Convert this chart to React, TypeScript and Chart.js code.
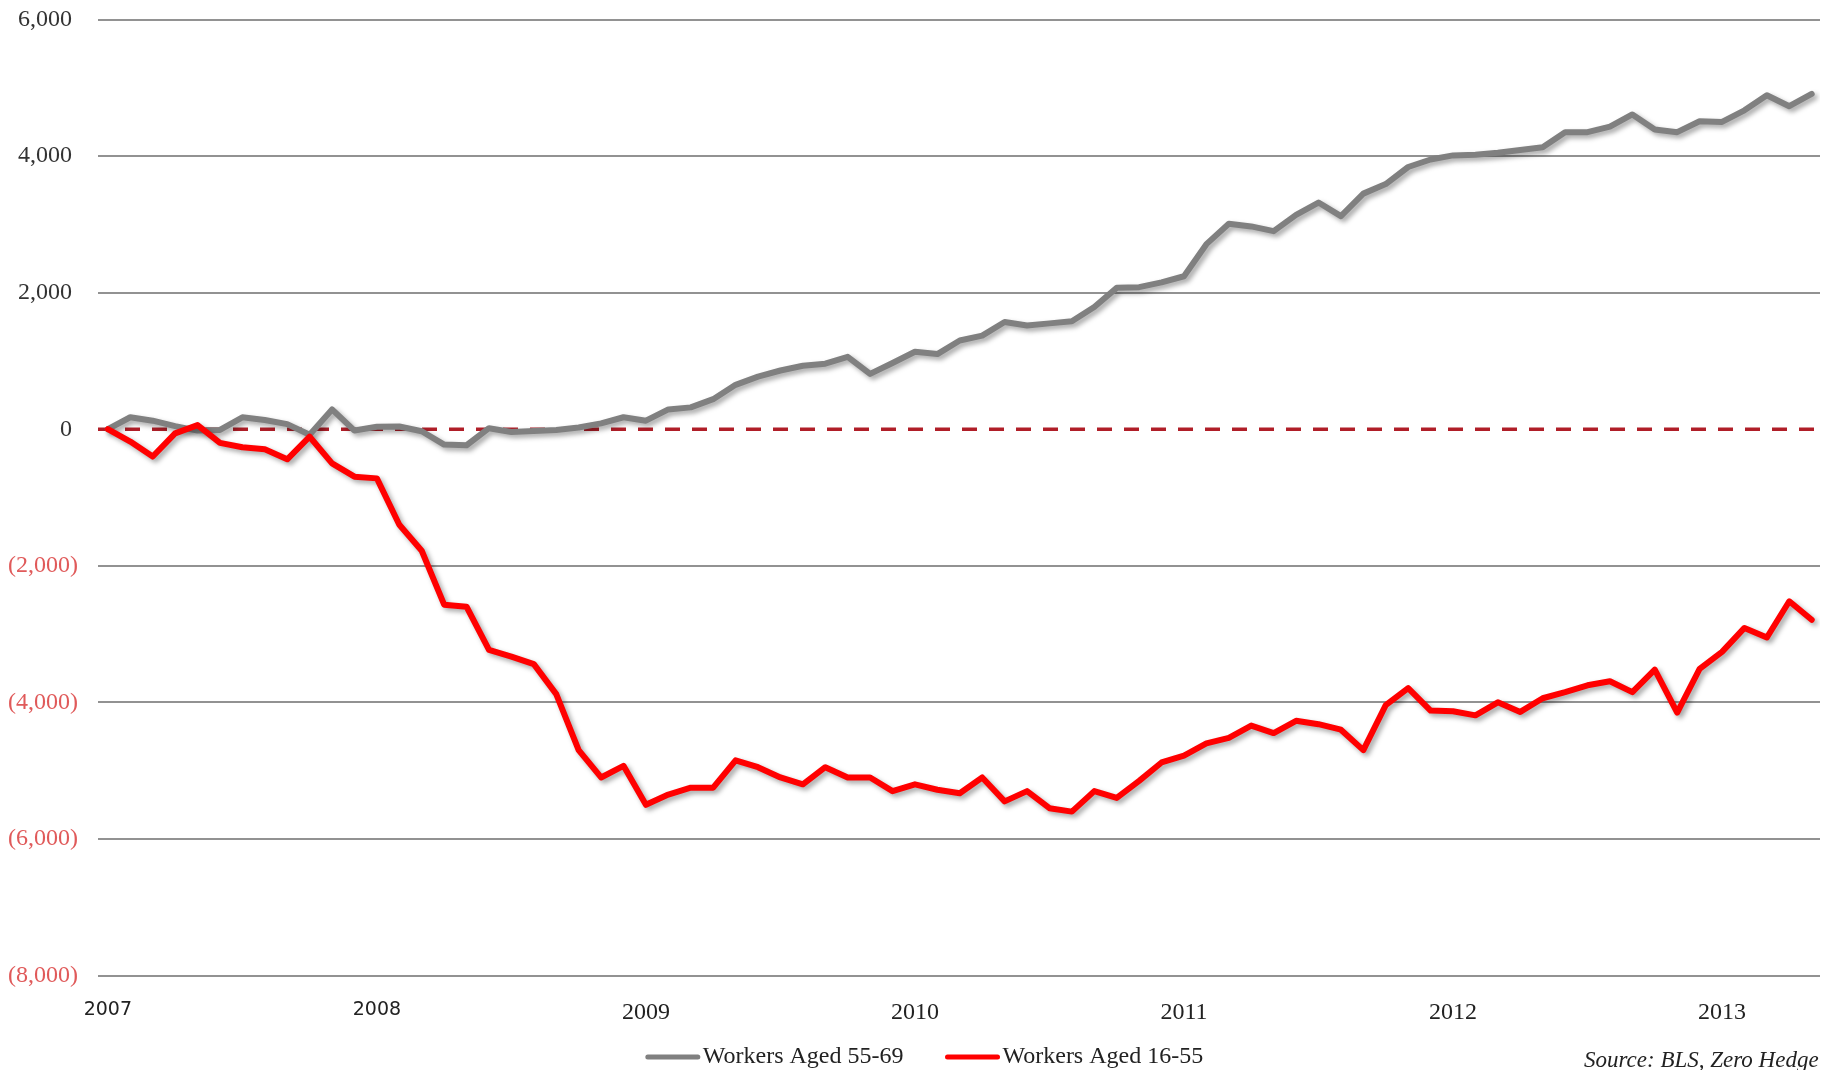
import React, { useEffect, useRef } from 'react';
import { Chart, registerables } from 'chart.js';

Chart.register(...registerables);

// ---- data ----
const yearLabels = ['2007', '2008', '2009', '2010', '2011', '2012', '2013'];
const yearTickIndex = [0, 12, 24, 36, 48, 60, 72];
const seriesNames = ['Workers Aged 55-69', 'Workers Aged 16-55'];
const sourceNote = 'Source: BLS, Zero Hedge';

// monthly change since Jan 2007 (thousands), Jan 2007 .. May 2013
const workers55to69 = [
  0, 175, 125, 45, -20, -10, 175, 135, 75, -80,
  290, -20, 35, 40, -30, -225, -235, 15, -40, -25,
  -10, 25, 85, 175, 125, 290, 320, 440, 650, 770,
  860, 930, 960, 1060, 810, 970, 1135, 1100, 1300, 1370,
  1570, 1520, 1550, 1580, 1790, 2070, 2080, 2150, 2240, 2710,
  3010, 2970, 2900, 3140, 3320, 3120, 3450, 3590, 3840, 3950,
  4010, 4020, 4050, 4090, 4130, 4350, 4350, 4430, 4610, 4390,
  4350, 4510, 4500, 4670, 4890, 4730, 4910,
];
const workers16to55 = [
  0, -180, -400, -60, 60, -200, -265, -295, -440, -110,
  -500, -695, -720, -1400, -1780, -2570, -2600, -3230, -3330, -3440,
  -3880, -4700, -5100, -4930, -5500, -5350, -5250, -5250, -4850, -4950,
  -5100, -5200, -4950, -5100, -5100, -5300, -5200, -5280, -5330, -5100,
  -5450, -5300, -5550, -5600, -5300, -5400, -5150, -4880, -4780, -4600,
  -4520, -4340, -4450, -4270, -4320, -4400, -4700, -4040, -3790, -4120,
  -4130, -4190, -4000, -4140, -3940, -3850, -3750, -3690, -3850, -3520,
  -4150, -3510, -3260, -2910, -3050, -2520, -2790,
];
const yMin = -8000;
const yMax = 6000;
const yStep = 2000;

// ---- styles ----
const SERIF = '"Liberation Serif", "Times New Roman", serif';
const SANS = '"DejaVu Sans", Verdana, sans-serif';
const GRAY = '#808080';
const RED = '#ff0000';

const fmt = (v: number) => Math.abs(v).toLocaleString('en-US');

const shadowPlugin = {
  id: 'lineShadow',
  beforeDatasetDraw(chart: any) {
    const ctx = chart.ctx;
    ctx.save();
    ctx.shadowColor = 'rgba(0,0,0,0.35)';
    ctx.shadowBlur = 5;
    ctx.shadowOffsetX = 3;
    ctx.shadowOffsetY = 3;
  },
  afterDatasetDraw(chart: any) {
    chart.ctx.restore();
  },
};

const zeroLinePlugin = {
  id: 'zeroLine',
  beforeDatasetsDraw(chart: any) {
    const { ctx, chartArea, scales } = chart;
    const y = scales.y.getPixelForValue(0);
    ctx.save();
    ctx.strokeStyle = '#b01e28';
    ctx.lineWidth = 3.5;
    ctx.setLineDash([15, 12]);
    ctx.beginPath();
    ctx.moveTo(chartArea.left, y);
    ctx.lineTo(chartArea.right, y);
    ctx.stroke();
    ctx.restore();
  },
};

const legendPlugin = {
  id: 'bottomLegend',
  afterDraw(chart: any) {
    const { ctx } = chart;
    ctx.save();
    ctx.font = `24px ${SERIF}`;
    ctx.textBaseline = 'middle';
    const lineW = 54;
    const gapText = 3;
    const gapItems = 42;
    const y = chart.height - 13;
    const items = chart.data.datasets.map((ds: any) => ({
      label: ds.label,
      color: ds.borderColor,
      w: lineW + gapText + ctx.measureText(ds.label).width,
    }));
    const total = items.reduce((s: number, it: any) => s + it.w, 0) + gapItems * (items.length - 1);
    let x = 924.5 - total / 2;
    items.forEach((it: any) => {
      ctx.strokeStyle = it.color;
      ctx.lineWidth = 5;
      ctx.lineCap = 'round';
      ctx.beginPath();
      ctx.moveTo(x + 2, y);
      ctx.lineTo(x + lineW - 2, y);
      ctx.stroke();
      ctx.fillStyle = '#222';
      ctx.fillText(it.label, x + lineW + gapText, y);
      x += it.w + gapItems;
    });
    ctx.font = `italic 23px ${SERIF}`;
    ctx.textBaseline = 'alphabetic';
    ctx.fillStyle = '#222';
    ctx.fillText(sourceNote, 1584, chart.height - 3);
    ctx.restore();
  },
};

export default function App() {
  const canvasRef = useRef<HTMLCanvasElement | null>(null);

  useEffect(() => {
    if (!canvasRef.current) return;
    const chart = new Chart(canvasRef.current, {
      type: 'line',
      data: {
        datasets: [
          {
            label: seriesNames[0],
            data: workers55to69.map((v, i) => ({ x: i, y: v })),
            borderColor: GRAY,
            backgroundColor: GRAY,
            borderWidth: 6,
            pointRadius: 0,
            tension: 0,
            borderJoinStyle: 'round',
            borderCapStyle: 'round',
            order: 1,
          },
          {
            label: seriesNames[1],
            data: workers16to55.map((v, i) => ({ x: i, y: v })),
            borderColor: RED,
            backgroundColor: RED,
            borderWidth: 6,
            pointRadius: 0,
            tension: 0,
            borderJoinStyle: 'round',
            borderCapStyle: 'round',
            order: 0,
          },
        ],
      },
      options: {
        animation: false,
        responsive: true,
        maintainAspectRatio: false,
        layout: { padding: { top: 19.5, right: 13, bottom: 0, left: 0 } },
        plugins: {
          legend: { display: false },
          tooltip: { enabled: false },
        },
        scales: {
          x: {
            type: 'linear',
            min: -0.44,
            max: 76.37,
            afterBuildTicks: (axis: any) => {
              axis.ticks = yearTickIndex.map((v) => ({ value: v }));
            },
            afterFit: (s: any) => {
              s.height = 94.5;
              s.paddingLeft = 0;
              s.paddingRight = 0;
            },
            ticks: {
              autoSkip: false,
              maxRotation: 0,
              padding: 15,
              color: '#222',
              font: (c: any) =>
                c.index < 2 ? { family: SANS, size: 19 } : { family: SERIF, size: 24 },
              callback: (value: any) => {
                const k = yearTickIndex.indexOf(Number(value));
                return k >= 0 ? yearLabels[k] : '';
              },
            },
            grid: { display: false },
            border: { display: false },
          },
          y: {
            min: yMin,
            max: yMax,
            afterFit: (s: any) => {
              s.width = 98;
              s.paddingTop = 0;
              s.paddingBottom = 0;
            },
            ticks: {
              stepSize: yStep,
              autoSkip: false,
              padding: 20,
              font: { family: SERIF, size: 24 },
              color: (c: any) => (c.tick.value < 0 ? '#e05a5a' : '#333'),
              callback: (v: any) => (Number(v) < 0 ? `(${fmt(Number(v))})` : `${fmt(Number(v))} `),
            },
            grid: {
              drawTicks: false,
              lineWidth: 2,
              color: (c: any) => (c.tick && c.tick.value === 0 ? 'rgba(0,0,0,0)' : '#929292'),
            },
            border: { display: false },
          },
        },
      },
      plugins: [zeroLinePlugin, shadowPlugin, legendPlugin],
    } as any);
    return () => chart.destroy();
  }, []);

  return (
    <div style={{ position: 'fixed', left: 0, top: 0, width: 1833, height: 1070, background: '#fff' }}>
      <canvas ref={canvasRef} />
    </div>
  );
}
